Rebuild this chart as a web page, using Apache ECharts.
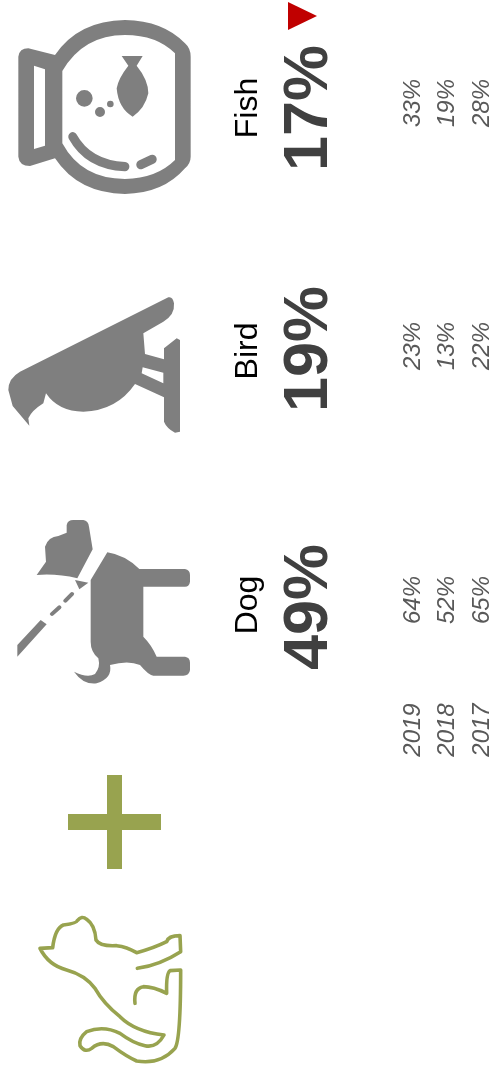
<!DOCTYPE html>
<html>
<head>
<meta charset="utf-8">
<style>
  html, body { margin: 0; padding: 0; background: #fff; }
  #chart { width: 492px; height: 1073px; }
</style>
<script src="https://cdn.jsdelivr.net/npm/echarts@6/dist/echarts.min.js"></script>
</head>
<body>
<div id="chart"></div>
<script>
const pets = ['Fish', 'Bird', 'Dog'];
const years = ['2019', '2018', '2017'];
const totals = [17, 19, 49];
const values2019 = [33, 23, 64];
const values2018 = [19, 13, 52];
const values2017 = [28, 22, 65];

// page is laid out sideways, so rows run along x and columns along y
const rowX = { name: 248, total: 310, 2019: 413.5, 2018: 447.5, 2017: 482.5 };
const nameY = [108, 351, 605];
const totalY = [108, 349, 607];
const valueY = [103, 346, 600];
const yearY = 730;

const GREY = '#7f7f7f';
const OLIVE = '#98a34f';

// icon outlines, drawn at 3x; the leading moves pin the frame so pieces stay aligned
const fishFill = 'M0 0M600 630M55 170Q58 145 85 145L165 165Q235 62 375 60Q490 62 555 130Q572 145 572 170L572 470Q572 490 555 505' +
  'Q490 580 375 582Q235 580 165 475L90 498Q58 498 55 470Z' +
  'M102 197L102 447L135 437L135 208Z' +
  'M187 213L187 430Q245 537 375 537Q470 535 525 480L525 160Q470 105 375 105Q250 105 187 213Z' +
  'M365 168L428 168L410 197Q445 240 445 280Q435 325 398 350Q355 325 350 265Q355 235 385 197Z' +
  'M228 295a25 25 0 1 0 50 0a25 25 0 1 0 -50 0Z' +
  'M285 336a15 15 0 1 0 30 0a15 15 0 1 0 -30 0Z' +
  'M321 312a10 10 0 1 0 20 0a10 10 0 1 0 -20 0Z';
const fishLines = 'M0 0M600 630M218 410Q265 495 375 500M422 494L457 478';
const birdFill = 'M0 0M600 480M88 437L85 415Q95 392 130 370L138 340Q175 395 250 395Q350 392 405 312L492 352L492 425' +
  'Q500 445 525 458L540 455L540 180L530 175L492 205L492 238L435 222L430 160L490 125Q525 105 522 70Q518 48 505 52L60 275' +
  'Q25 295 25 330L38 378Z' +
  'M428 262L490 278L490 310L425 280Z';
const dogFill = 'M0 0M600 540M110 195L138 155L135 110Q145 80 175 78L200 68L200 45Q203 30 220 30L250 30Q265 32 267 50L278 118L232 205Q170 190 110 195Z' +
  'M322 127Q375 135 418 177L555 177Q570 180 570 195L570 215Q568 230 555 230L430 230L430 380Q455 405 470 440L555 440Q570 442 570 458' +
  'L570 480Q568 497 550 497L460 497Q445 495 420 465Q385 450 330 465Q338 505 290 520Q250 525 222 485Q262 505 285 492Q302 472 295 445Q272 425 272 395L272 210Z' +
  'M225 210L265 218L238 238Z' +
  'M52 405L122 330L140 343L52 440Z';
const dogLeash = 'M0 0M600 540M196 272L216 252M156 312L178 292';
const catLines = 'M0 0M510 510M98 143L60 145Q85 195 140 210Q195 225 225 265Q250 310 300 350Q345 395 432 405Q410 445 375 437Q340 430 300 400' +
  'Q250 375 200 395Q175 415 180 437Q195 460 215 445Q245 420 280 440Q320 470 350 483Q420 495 465 445Q482 420 482 210L450 212' +
  'Q438 220 440 280Q400 260 370 260Q340 265 345 310' +
  'M98 143Q105 85 130 75Q170 70 172 62Q185 45 200 58Q225 75 228 120Q240 140 290 137Q320 140 350 158Q400 145 440 125Q445 107 480 107L482 155Q420 195 352 205';
const plusFill = 'M0 0M93 94M39 0L54 0L54 39L93 39L93 55L54 55L54 94L39 94L39 55L0 55L0 39L39 39Z';

function iconSeries(path, center, size, itemStyle) {
  return {
    type: 'scatter',
    silent: true,
    clip: false,
    symbol: 'path://' + path,
    symbolSize: size,
    itemStyle: Object.assign({ opacity: 1 }, itemStyle),
    data: [center],
  };
}

function textSeries(points, font) {
  return {
    type: 'scatter',
    silent: true,
    clip: false,
    symbolSize: 1,
    itemStyle: { color: 'transparent', opacity: 1 },
    data: points,
    label: Object.assign({
      show: true,
      position: 'inside',
      rotate: 90,
      align: 'center',
      verticalAlign: 'middle',
      fontFamily: '"Liberation Sans", Arial, sans-serif',
      formatter: (p) => p.data.text,
    }, font),
  };
}

function percentPoints(values, row, ys) {
  return values.map((v, i) => ({ value: [row, ys[i]], text: v + '%' }));
}

const yearFont = { fontSize: 24, fontStyle: 'italic', color: '#595959' };

const chart = echarts.init(document.getElementById('chart'), null, { renderer: 'canvas' });

chart.setOption({
  animation: false,
  backgroundColor: '#fff',
  grid: { left: 0, right: 0, top: 0, bottom: 0 },
  xAxis: { type: 'value', min: 0, max: 492, show: false },
  yAxis: { type: 'value', min: 0, max: 1073, inverse: true, show: false },
  series: [
    iconSeries(fishFill, [100, 105], [200, 210], { color: GREY }),
    iconSeries(fishLines, [100, 105], [200, 210], { color: 'transparent', borderColor: GREY, borderWidth: 9, borderCap: 'round' }),
    iconSeries(birdFill, [100, 360], [200, 160], { color: GREY }),
    iconSeries(dogFill, [100, 600], [200, 180], { color: GREY }),
    iconSeries(dogLeash, [100, 600], [200, 180], { color: 'transparent', borderColor: GREY, borderWidth: 4, borderCap: 'round' }),
    iconSeries(plusFill, [114.5, 822], [93, 94], { color: OLIVE }),
    iconSeries(catLines, [105, 985], [170, 170], { color: 'transparent', borderColor: OLIVE, borderWidth: 3.6, borderCap: 'round', borderJoin: 'round' }),
    {
      type: 'scatter',
      silent: true,
      clip: false,
      symbol: 'triangle',
      symbolRotate: -90,
      symbolSize: [28, 29],
      itemStyle: { color: '#c00000', opacity: 1 },
      data: [[302.5, 16]],
    },
    textSeries(pets.map((p, i) => ({ value: [rowX.name, nameY[i]], text: p })), { fontSize: 32, color: '#000' }),
    textSeries(percentPoints(totals, rowX.total, totalY), { fontSize: 63, fontWeight: 'bold', color: '#404040' }),
    textSeries(percentPoints(values2019, rowX[2019], valueY), yearFont),
    textSeries(percentPoints(values2018, rowX[2018], valueY), yearFont),
    textSeries(percentPoints(values2017, rowX[2017], valueY), yearFont),
    textSeries(years.map((y) => ({ value: [rowX[y], yearY], text: y })), yearFont),
  ],
});
</script>
</body>
</html>
